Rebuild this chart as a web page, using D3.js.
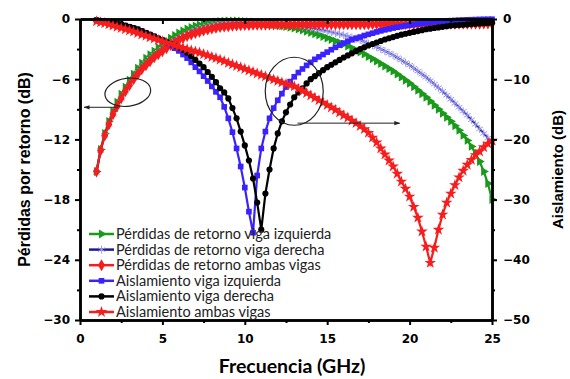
<!DOCTYPE html>
<html>
<head>
<meta charset="utf-8">
<script src="https://cdn.jsdelivr.net/npm/d3@7"></script>
<style>
  body { margin: 0; background: #fff; }
  svg { display: block; }
</style>
</head>
<body>
<div id="chart"></div>
<script>
// frequency sweep (GHz)
const freq = [
  1, 1.25, 1.5, 1.75, 2, 2.25, 2.5, 2.75,
  3, 3.25, 3.5, 3.75, 4, 4.25, 4.5, 4.75,
  5, 5.25, 5.5, 5.75, 6, 6.25, 6.5, 6.75,
  7, 7.25, 7.5, 7.75, 8, 8.25, 8.5, 8.75,
  9, 9.25, 9.5, 9.75, 10, 10.25, 10.5, 10.75,
  11, 11.25, 11.5, 11.75, 12, 12.25, 12.5, 12.75,
  13, 13.25, 13.5, 13.75, 14, 14.25, 14.5, 14.75,
  15, 15.25, 15.5, 15.75, 16, 16.25, 16.5, 16.75,
  17, 17.25, 17.5, 17.75, 18, 18.25, 18.5, 18.75,
  19, 19.25, 19.5, 19.75, 20, 20.25, 20.5, 20.75,
  21, 21.25, 21.5, 21.75, 22, 22.25, 22.5, 22.75,
  23, 23.25, 23.5, 23.75, 24, 24.25, 24.5, 24.75,
  25
];

// return loss (left axis, dB)
const rlLeft = [
  -15.2, -13.0, -11.4, -10.2, -9.2, -8.3, -7.5, -6.8,
  -6.1, -5.5, -4.9, -4.4, -3.9, -3.55, -3.2, -2.85,
  -2.5, -2.2, -1.9, -1.65, -1.4, -1.2, -1.0, -0.85,
  -0.7, -0.6, -0.5, -0.42, -0.35, -0.3, -0.25, -0.22,
  -0.2, -0.2, -0.2, -0.22, -0.25, -0.27, -0.3, -0.35,
  -0.4, -0.45, -0.5, -0.55, -0.6, -0.68, -0.75, -0.82,
  -0.9, -1.0, -1.1, -1.22, -1.35, -1.48, -1.6, -1.75,
  -1.9, -2.05, -2.2, -2.35, -2.5, -2.7, -2.9, -3.1,
  -3.3, -3.5, -3.75, -3.97, -4.2, -4.45, -4.7, -4.95,
  -5.2, -5.5, -5.8, -6.1, -6.4, -6.75, -7.1, -7.45,
  -7.8, -8.2, -8.6, -9.0, -9.4, -9.8, -10.2, -10.65,
  -11.1, -11.6, -12.1, -12.7, -13.4, -14.2, -15.2, -16.4,
  -18.0
];
const rlRight = [
  -15.3, -13.1, -11.6, -10.5, -9.5, -8.7, -7.9, -7.2,
  -6.5, -5.9, -5.3, -4.8, -4.4, -4.0, -3.6, -3.3,
  -3.0, -2.7, -2.4, -2.15, -1.9, -1.7, -1.5, -1.3,
  -1.1, -0.97, -0.85, -0.75, -0.65, -0.57, -0.5, -0.46,
  -0.42, -0.4, -0.38, -0.37, -0.36, -0.36, -0.36, -0.37,
  -0.38, -0.4, -0.42, -0.45, -0.48, -0.52, -0.56, -0.6,
  -0.65, -0.7, -0.76, -0.83, -0.9, -0.97, -1.05, -1.12,
  -1.2, -1.3, -1.4, -1.5, -1.6, -1.72, -1.85, -1.97,
  -2.1, -2.27, -2.45, -2.62, -2.8, -3.0, -3.2, -3.4,
  -3.6, -3.85, -4.1, -4.35, -4.6, -4.9, -5.2, -5.5,
  -5.8, -6.15, -6.5, -6.85, -7.2, -7.6, -8.0, -8.4,
  -8.8, -9.2, -9.6, -10.05, -10.5, -10.95, -11.4, -11.85,
  -12.3
];
const rlBoth = [
  -15.2, -13.1, -11.6, -10.5, -9.5, -8.7, -7.9, -7.2,
  -6.6, -6.0, -5.5, -5.0, -4.6, -4.2, -3.8, -3.5,
  -3.2, -2.9, -2.6, -2.35, -2.1, -1.9, -1.7, -1.55,
  -1.4, -1.27, -1.15, -1.05, -0.95, -0.87, -0.8, -0.75,
  -0.72, -0.68, -0.65, -0.62, -0.6, -0.59, -0.58, -0.57,
  -0.56, -0.56, -0.55, -0.55, -0.55, -0.54, -0.54, -0.54,
  -0.54, -0.54, -0.53, -0.53, -0.53, -0.53, -0.53, -0.52,
  -0.52, -0.52, -0.52, -0.52, -0.52, -0.51, -0.51, -0.51,
  -0.51, -0.51, -0.51, -0.5, -0.5, -0.5, -0.5, -0.5,
  -0.5, -0.5, -0.49, -0.49, -0.49, -0.49, -0.49, -0.48,
  -0.48, -0.48, -0.48, -0.48, -0.47, -0.47, -0.47, -0.47,
  -0.47, -0.46, -0.46, -0.46, -0.46, -0.46, -0.45, -0.45,
  -0.45
];

// isolation (right axis, dB)
const isoLeft = [
  -0.2, -0.3, -0.4, -0.5, -0.6, -0.75, -0.9, -1.1,
  -1.3, -1.5, -1.7, -2.0, -2.3, -2.6, -2.9, -3.25,
  -3.6, -4.0, -4.4, -4.85, -5.3, -5.9, -6.5, -7.2,
  -8.0, -8.7, -9.5, -10.3, -11.2, -12.1, -13.0, -14.6,
  -16.5, -18.8, -21.5, -24.5, -28.0, -32.0, -35.5, -26.0,
  -21.5, -18.7, -16.5, -14.8, -13.5, -12.4, -11.3, -10.4,
  -9.6, -8.9, -8.3, -7.7, -7.2, -6.7, -6.3, -5.9,
  -5.5, -5.1, -4.7, -4.35, -4.0, -3.7, -3.45, -3.2,
  -3.0, -2.75, -2.55, -2.35, -2.15, -1.97, -1.8, -1.65,
  -1.5, -1.37, -1.25, -1.13, -1.02, -0.92, -0.82, -0.73,
  -0.65, -0.57, -0.5, -0.44, -0.38, -0.33, -0.28, -0.24,
  -0.2, -0.17, -0.14, -0.12, -0.1, -0.08, -0.06, -0.05,
  -0.04
];
const isoRight = [
  -0.2, -0.3, -0.4, -0.5, -0.6, -0.75, -0.9, -1.1,
  -1.3, -1.5, -1.7, -2.0, -2.3, -2.6, -2.9, -3.2,
  -3.5, -3.8, -4.1, -4.4, -4.7, -5.1, -5.6, -6.2,
  -6.8, -7.4, -8.0, -8.8, -9.6, -10.5, -11.5, -12.2,
  -13.2, -14.8, -16.5, -18.7, -21.0, -23.5, -26.5, -30.5,
  -35.0, -29.0, -25.0, -21.5, -19.0, -17.0, -15.5, -14.2,
  -13.0, -12.2, -11.5, -10.7, -10.0, -9.5, -9.0, -8.5,
  -8.0, -7.6, -7.2, -6.8, -6.4, -6.05, -5.7, -5.35,
  -5.0, -4.7, -4.4, -4.15, -3.9, -3.65, -3.4, -3.2,
  -3.0, -2.8, -2.6, -2.45, -2.3, -2.15, -2.0, -1.85,
  -1.7, -1.6, -1.5, -1.4, -1.3, -1.2, -1.1, -1.05,
  -1.0, -0.95, -0.9, -0.85, -0.8, -0.75, -0.7, -0.65,
  -0.6
];
const isoBoth = [
  -0.4, -0.55, -0.7, -0.9, -1.1, -1.3, -1.5, -1.7,
  -1.9, -2.1, -2.35, -2.6, -2.8, -3.05, -3.25, -3.5,
  -3.7, -3.95, -4.15, -4.4, -4.6, -4.8, -5.0, -5.2,
  -5.4, -5.6, -5.85, -6.05, -6.3, -6.5, -6.75, -7.0,
  -7.3, -7.55, -7.8, -8.05, -8.3, -8.55, -8.8, -9.05,
  -9.3, -9.55, -9.8, -10.05, -10.3, -10.55, -10.8, -11.0,
  -11.2, -11.6, -11.95, -12.3, -12.7, -13.1, -13.5, -13.9,
  -14.3, -14.7, -15.1, -15.55, -16.0, -16.4, -16.9, -17.3,
  -17.8, -18.3, -18.9, -19.7, -20.5, -21.5, -22.5, -23.5,
  -24.5, -25.7, -27.0, -28.2, -29.5, -31.2, -33.0, -35.3,
  -37.8, -40.5, -38.0, -35.0, -32.5, -30.5, -29.0, -27.6,
  -26.3, -25.2, -24.2, -23.4, -22.6, -22.0, -21.3, -20.7,
  -20.2
];

const seriesNames = [
  "Pérdidas de retorno viga izquierda",
  "Pérdidas de retorno viga derecha",
  "Pérdidas de retorno ambas vigas",
  "Aislamiento viga izquierda",
  "Aislamiento viga derecha",
  "Aislamiento ambas vigas"
];

const xTicks = [0, 5, 10, 15, 20, 25];
const xMinor = [2.5, 7.5, 12.5, 17.5, 22.5];
const yLeftTicks = [0, -6, -12, -18, -24, -30];
const yLeftMinor = [-3, -9, -15, -21, -27];
const yRightTicks = [0, -10, -20, -30, -40, -50];
const yRightMinor = [-5, -15, -25, -35, -45];

const W = 570, H = 379;
const plot = { left: 80, right: 492, top: 19, bottom: 320 };

const svg = d3.select("#chart").append("svg")
  .attr("width", W)
  .attr("height", H);

svg.append("rect").attr("width", W).attr("height", H).attr("fill", "#fff");

const x = d3.scaleLinear().domain([0, 25]).range([plot.left, plot.right]);
const yL = d3.scaleLinear().domain([-30, 0]).range([plot.bottom, plot.top]);
const yR = d3.scaleLinear().domain([-50, 0]).range([plot.bottom, plot.top]);

// marker shapes
const triRight = d3.symbol(d3.symbolTriangle, 34);
const star = d3.symbol(d3.symbolStar, 42);
const diamond = d3.symbol(d3.symbolDiamond, 42);
const square = d3.symbol(d3.symbolSquare, 32);
const circle = d3.symbol(d3.symbolCircle, 30);
const aster = d3.symbol(d3.symbolAsterisk, 44);

const series = [
  { values: rlLeft,  scale: yL, line: "#1a9a1a", fill: "#1a9a1a", sym: triRight, rot: 90 },
  { values: rlRight, scale: yL, line: "#1c1c8e", fill: "none", stroke: "#9a9af0", sym: aster, rot: 0 },
  { values: rlBoth,  scale: yL, line: "#f51d1d", fill: "#f51d1d", sym: diamond, rot: 0 },
  { values: isoLeft, scale: yR, line: "#3a22ff", fill: "#3a22ff", sym: square, rot: 0 },
  { values: isoRight, scale: yR, line: "#000", fill: "#000", sym: circle, rot: 0 },
  { values: isoBoth, scale: yR, line: "#f51d1d", fill: "#f51d1d", sym: star, rot: 0 }
];

const curves = svg.append("g");

series.forEach(s => {
  const pts = freq.map((f, i) => [f, s.values[i]]);
  const g = curves.append("g");

  g.append("path")
    .datum(pts)
    .attr("fill", "none")
    .attr("stroke", s.line)
    .attr("stroke-width", 2.2)
    .attr("d", d3.line().x(d => x(d[0])).y(d => s.scale(d[1])));

  g.selectAll("path.mk")
    .data(pts)
    .enter()
    .append("path")
    .attr("class", "mk")
    .attr("d", s.sym)
    .attr("transform", d => "translate(" + x(d[0]) + "," + s.scale(d[1]) + ") rotate(" + s.rot + ")")
    .attr("fill", s.fill)
    .attr("stroke", s.stroke || "none")
    .attr("stroke-width", 1);
});

// annotation ellipses and arrows
svg.append("defs").append("marker")
  .attr("id", "arr")
  .attr("viewBox", "0 0 10 10")
  .attr("refX", 9).attr("refY", 5)
  .attr("markerWidth", 7).attr("markerHeight", 6)
  .attr("orient", "auto")
  .append("path")
  .attr("d", "M0,1.5 L10,5 L0,8.5 Z")
  .attr("fill", "#222");

const notes = svg.append("g").attr("fill", "none").attr("stroke", "#222").attr("stroke-width", 1.2);

notes.append("ellipse")
  .attr("cx", x(2.9)).attr("cy", yL(-7.3))
  .attr("rx", 23).attr("ry", 14)
  .attr("transform", "rotate(-8," + x(2.9) + "," + yL(-7.3) + ")");
notes.append("line")
  .attr("x1", x(2.3)).attr("y1", yL(-8.8))
  .attr("x2", x(0.25)).attr("y2", yL(-8.8))
  .attr("stroke-width", 1)
  .attr("marker-end", "url(#arr)");

notes.append("ellipse")
  .attr("cx", x(13.0)).attr("cy", yR(-12))
  .attr("rx", 29).attr("ry", 34);
notes.append("line")
  .attr("x1", x(13.2)).attr("y1", yR(-17.3))
  .attr("x2", x(19.4)).attr("y2", yR(-17.3))
  .attr("stroke-width", 1)
  .attr("marker-end", "url(#arr)");

// axes
const tickFont = "'DejaVu Sans', sans-serif";

function styleAxis(g, labels) {
  g.select(".domain").attr("stroke", "#000").attr("stroke-width", 2.5);
  g.selectAll(".tick line").attr("stroke", "#000").attr("stroke-width", 2);
  g.selectAll(".tick text")
    .attr("fill", "#000")
    .style("font-family", tickFont)
    .style("font-weight", "bold")
    .style("font-size", "12px");
  if (!labels) g.selectAll(".tick text").remove();
}

svg.append("g")
  .attr("transform", "translate(0," + plot.bottom + ")")
  .call(d3.axisBottom(x).tickValues(xMinor).tickSize(3).tickSizeOuter(0))
  .call(g => styleAxis(g, false));
svg.append("g")
  .attr("transform", "translate(0," + plot.bottom + ")")
  .call(d3.axisBottom(x).tickValues(xTicks).tickSize(5).tickPadding(9).tickSizeOuter(0))
  .call(g => styleAxis(g, true));

svg.append("g")
  .attr("transform", "translate(0," + plot.top + ")")
  .call(d3.axisBottom(x).tickValues(xMinor).tickSize(3).tickSizeOuter(0))
  .call(g => styleAxis(g, false));
svg.append("g")
  .attr("transform", "translate(0," + plot.top + ")")
  .call(d3.axisBottom(x).tickValues(xTicks).tickSize(5).tickSizeOuter(0))
  .call(g => styleAxis(g, false));

svg.append("g")
  .attr("transform", "translate(" + plot.left + ",0)")
  .call(d3.axisLeft(yL).tickValues(yLeftMinor).tickSize(3).tickSizeOuter(0))
  .call(g => styleAxis(g, false));
svg.append("g")
  .attr("transform", "translate(" + plot.left + ",0)")
  .call(d3.axisLeft(yL).tickValues(yLeftTicks).tickSize(5).tickPadding(5).tickSizeOuter(0))
  .call(g => styleAxis(g, true));

svg.append("g")
  .attr("transform", "translate(" + plot.right + ",0)")
  .call(d3.axisRight(yR).tickValues(yRightMinor).tickSize(3).tickSizeOuter(0))
  .call(g => styleAxis(g, false));
svg.append("g")
  .attr("transform", "translate(" + plot.right + ",0)")
  .call(d3.axisRight(yR).tickValues(yRightTicks).tickSize(5).tickPadding(6).tickSizeOuter(0))
  .call(g => styleAxis(g, true));

// axis titles
svg.append("text")
  .attr("transform", "translate(30," + ((plot.top + plot.bottom) / 2) + ") rotate(-90)")
  .attr("text-anchor", "middle")
  .style("font-family", "'Liberation Sans', Arial, sans-serif")
  .style("font-weight", "bold")
  .style("font-size", "16px")
  .text("Pérdidas por retorno (dB)");

svg.append("text")
  .attr("transform", "translate(563," + ((plot.top + plot.bottom) / 2) + ") rotate(-90)")
  .attr("text-anchor", "middle")
  .style("font-family", "'Liberation Sans', Arial, sans-serif")
  .style("font-weight", "bold")
  .style("font-size", "15px")
  .text("Aislamiento (dB)");

svg.append("text")
  .attr("x", 292).attr("y", 373)
  .attr("text-anchor", "middle")
  .style("font-family", "Lato, sans-serif")
  .style("font-weight", "bold")
  .style("font-size", "19.5px")
  .text("Frecuencia (GHz)");

// legend
const legend = svg.append("g").attr("transform", "translate(89,234)");
seriesNames.forEach((name, i) => {
  const s = series[i];
  const row = legend.append("g").attr("transform", "translate(0," + (i * 15.6) + ")");
  row.append("line")
    .attr("x1", 0).attr("x2", 25)
    .attr("stroke", s.line)
    .attr("stroke-width", 2.5);
  row.append("path")
    .attr("d", s.sym)
    .attr("transform", "translate(12.5,0) rotate(" + s.rot + ")")
    .attr("fill", s.fill)
    .attr("stroke", s.stroke || "none");
  row.append("text")
    .attr("x", 27).attr("y", 5)
    .attr("fill", "#222")
    .style("font-family", "Lato, sans-serif")
    .style("font-size", "14.5px")
    .text(name);
});
</script>
</body>
</html>
